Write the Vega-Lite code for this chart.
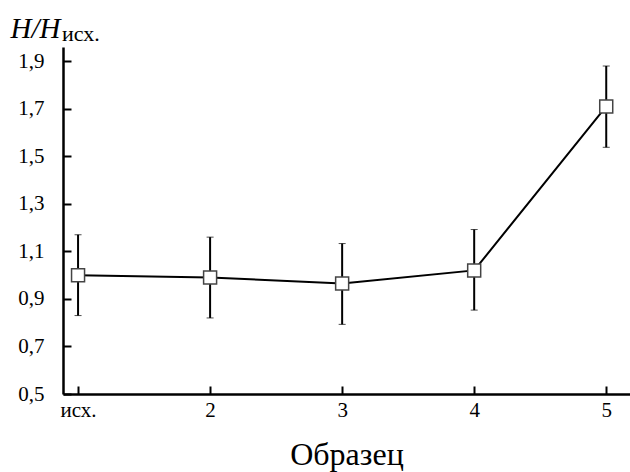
{
  "$schema": "https://vega.github.io/schema/vega-lite/v6.json",
  "width": 567,
  "height": 347,
  "autosize": "none",
  "padding": {"left": 63, "top": 47, "right": 0, "bottom": 78},
  "background": "white",
  "title": {"text": "исх.", "anchor": "start", "frame": "group", "font": "Liberation Serif", "fontSize": 22, "fontWeight": "normal", "color": "black", "dx": -1, "dy": 54, "offset": 0, "baseline": "bottom"},
  "config": {
    "view": {"stroke": null},
    "font": "Liberation Serif",
    "axis": {"labelFont": "Liberation Serif", "labelFontSize": 21, "labelColor": "black", "titleFont": "Liberation Serif", "titleColor": "black", "titleFontWeight": "normal", "domainColor": "black", "domainWidth": 2.5, "tickColor": "black", "tickWidth": 2, "tickSize": -8, "grid": false}
  },
  "data": {"values": [
    {"s": 1, "v": 1.00, "lo": 0.83, "hi": 1.17},
    {"s": 2, "v": 0.99, "lo": 0.82, "hi": 1.16},
    {"s": 3, "v": 0.965, "lo": 0.793, "hi": 1.133},
    {"s": 4, "v": 1.02, "lo": 0.853, "hi": 1.192},
    {"s": 5, "v": 1.71, "lo": 1.538, "hi": 1.88}
  ]},
  "encoding": {
    "x": {"field": "s", "type": "quantitative", "scale": {"domain": [0.886, 5.18], "nice": false, "zero": false},
      "axis": {"values": [1, 2, 3, 4, 5], "labelExpr": "datum.value == 1 ? 'исх.' : datum.label", "title": "Образец", "titleFontSize": 32, "titlePadding": 19, "labelPadding": 13}},
    "y": {"type": "quantitative", "scale": {"domain": [0.5, 1.96], "nice": false, "zero": false}}
  },
  "layer": [
    {"mark": {"type": "errorbar", "ticks": {"size": 7, "color": "black", "strokeWidth": 2}, "rule": {"color": "black", "strokeWidth": 2}},
      "encoding": {"y": {"field": "lo", "type": "quantitative", "scale": {"domain": [0.5, 1.96], "nice": false, "zero": false},
        "axis": {"values": [0.5, 0.7, 0.9, 1.1, 1.3, 1.5, 1.7, 1.9], "labelExpr": "replace(format(datum.value, '.1f'), '.', ',')", "title": "H/H", "titleAngle": 0, "titleFontStyle": "italic", "titleFontSize": 29, "titleAlign": "left", "titleBaseline": "alphabetic", "titleX": -53, "titleY": -10, "labelPadding": 27}},
        "y2": {"field": "hi"}}},
    {"mark": {"type": "line", "color": "black", "strokeWidth": 2}, "encoding": {"y": {"field": "v", "type": "quantitative"}}},
    {"mark": {"type": "point", "shape": "square", "filled": true, "fill": "white", "stroke": "#444", "strokeWidth": 1.5, "size": 169, "opacity": 1}, "encoding": {"y": {"field": "v", "type": "quantitative"}}}
  ]
}
